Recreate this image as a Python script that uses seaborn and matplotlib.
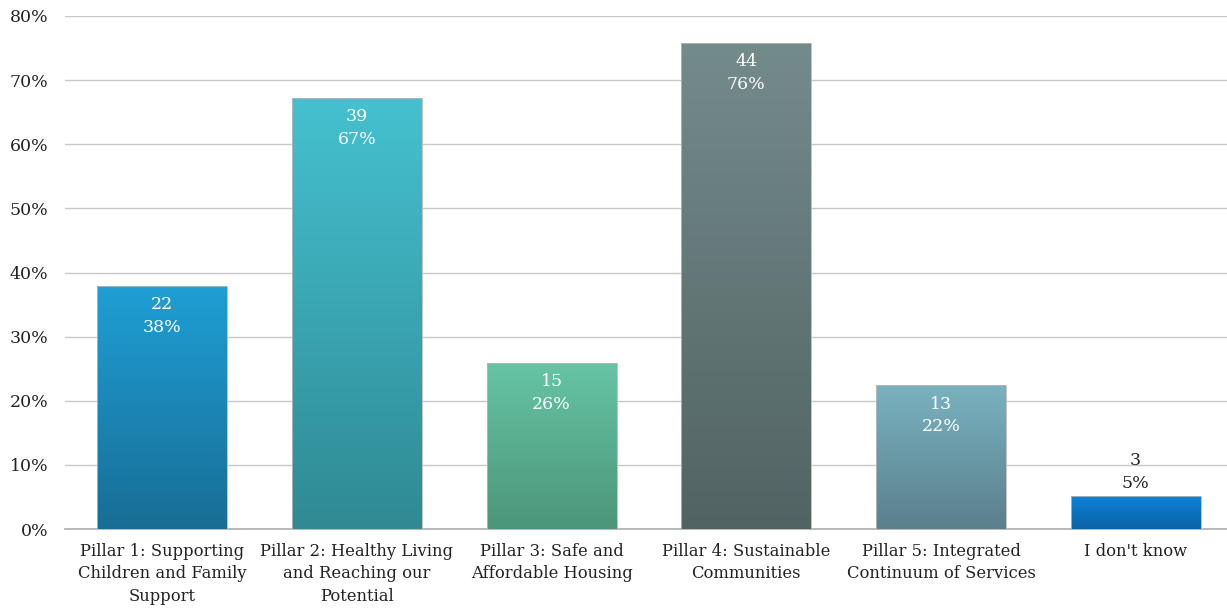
import numpy as np
import pandas as pd
import matplotlib
matplotlib.use("Agg")
import matplotlib.pyplot as plt
import seaborn as sns
from matplotlib.colors import LinearSegmentedColormap
from matplotlib.ticker import PercentFormatter

categories = [
    "Pillar 1: Supporting\nChildren and Family\nSupport",
    "Pillar 2: Healthy Living\nand Reaching our\nPotential",
    "Pillar 3: Safe and\nAffordable Housing",
    "Pillar 4: Sustainable\nCommunities",
    "Pillar 5: Integrated\nContinuum of Services",
    "I don't know",
]
counts = [22, 39, 15, 44, 13, 3]
total = 58
percents = [c / total * 100 for c in counts]
top_colors = ["#1f9fd5", "#45c1d0", "#66c4a4", "#748b8c", "#7ab2c0", "#0f84da"]
bottom_colors = ["#176e95", "#2f8a94", "#4c967a", "#526363", "#5a808c", "#0a62a6"]

sns.set_theme(style="white")
plt.rcParams["font.family"] = ["DejaVu Serif"]

fig = plt.figure(figsize=(12.27, 6.08), dpi=100)
ax = fig.add_axes([65 / 1227, 1 - 529 / 608, 1168 / 1227, (529 - 16) / 608])

df = pd.DataFrame({"cat": categories, "pct": percents})
sns.barplot(data=df, x="cat", y="pct", ax=ax, width=0.667, color="#888888",
            saturation=1, zorder=2)

ax.set_ylim(0, 80)
ax.set_xlim(-0.5, 5.5)
ax.set_yticks(np.arange(0, 81, 10))
ax.yaxis.set_major_formatter(PercentFormatter(decimals=0))
ax.grid(axis="y", color="#c8c8c8", linewidth=1, zorder=0)
ax.set_axisbelow(True)
for s in ["top", "right", "left"]:
    ax.spines[s].set_visible(False)
ax.spines["bottom"].set_color("#b0b0b0")
ax.set_xlabel("")
ax.set_ylabel("")
ax.tick_params(axis="y", labelsize=12.5, colors="#222222", pad=12, length=0)
ax.tick_params(axis="x", labelsize=11.8, colors="#222222", pad=10, length=0)
for t in ax.get_xticklabels():
    t.set_linespacing(1.42)

for i, p in enumerate(ax.patches):
    x0, y0 = p.get_x(), p.get_y()
    w, h = p.get_width(), p.get_height()
    cmap = LinearSegmentedColormap.from_list("g", [bottom_colors[i], top_colors[i]])
    grad = np.linspace(0, 1, 256).reshape(-1, 1)
    im = ax.imshow(grad, cmap=cmap, aspect="auto", origin="lower",
                   extent=[x0, x0 + w, y0, y0 + h], zorder=3)
    im.set_clip_path(p)
    p.set_facecolor("none")
    p.set_edgecolor("#b8b8b8")
    p.set_linewidth(0.6)
    p.set_zorder(4)
    cx = x0 + w / 2
    label = f"{counts[i]}\n{round(percents[i]):.0f}%"
    if h > 15:
        ax.text(cx, y0 + h - 1.6, label, ha="center", va="top", color="white",
                fontsize=12.5, linespacing=1.45, zorder=5)
    else:
        ax.text(cx, y0 + h + 0.6, label, ha="center", va="bottom", color="#222222",
                fontsize=12.5, linespacing=1.45, zorder=5)

ax.set_xlim(-0.5, 5.5)
ax.set_ylim(0, 80)
fig.savefig("out.png", dpi=100)
